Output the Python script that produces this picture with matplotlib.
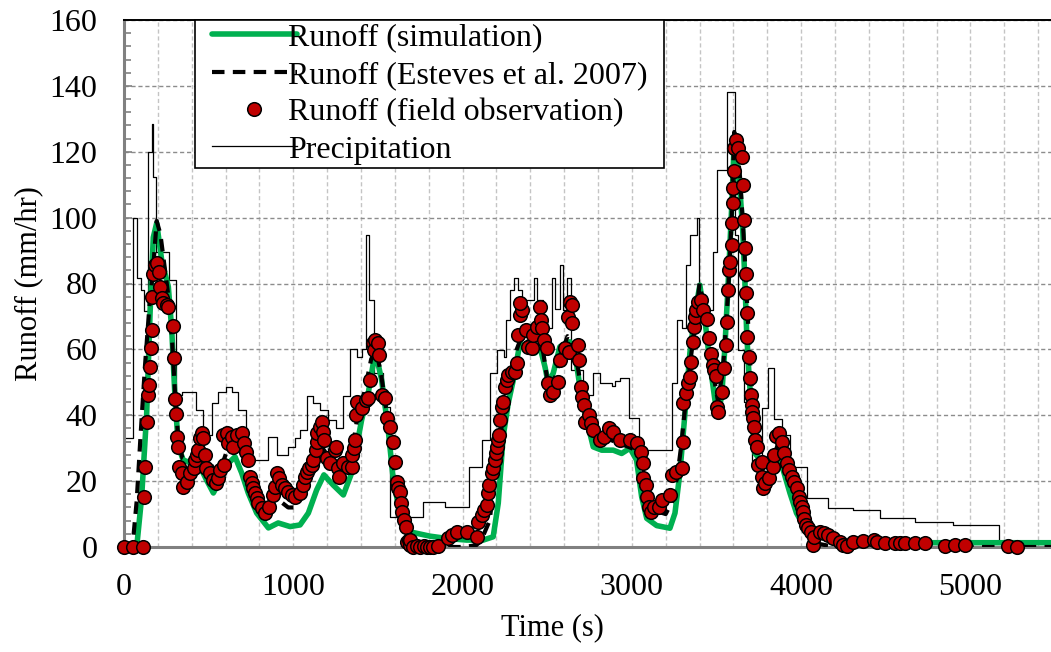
import matplotlib
matplotlib.use("Agg")
import matplotlib.pyplot as plt
from matplotlib.ticker import MultipleLocator
from matplotlib.lines import Line2D
from matplotlib.legend_handler import HandlerLine2D

plt.rcParams['font.family'] = ['Liberation Serif', 'DejaVu Serif']

# ---------------- data ----------------
sim_t = [0, 75, 104, 134, 154, 173, 193, 223, 262, 282, 301, 321, 350, 400, 449, 488, 528, 567, 616, 656,
         695, 734, 784, 853, 911, 981, 1040, 1089, 1138, 1181, 1236, 1296, 1345, 1404, 1443, 1473, 1493,
         1522, 1561, 1591, 1630, 1689, 1807, 1906, 2024, 2122, 2181, 2211, 2240, 2270, 2300, 2339, 2388,
         2428, 2457, 2487, 2506, 2536, 2575, 2634, 2664, 2693, 2733, 2772, 2822, 2890, 2940, 2989, 3028,
         3058, 3088, 3147, 3225, 3255, 3284, 3314, 3343, 3373, 3402, 3432, 3461, 3491, 3511, 3531, 3550,
         3570, 3590, 3603, 3619, 3639, 3655, 3668, 3678, 3688, 3708, 3727, 3767, 3806, 3845, 3865, 3894,
         3934, 3973, 4023, 4072, 4151, 4269, 4500, 5500]
sim_y = [0, 0, 15, 40.6, 71, 94, 98.3, 87, 79, 66, 45.6, 30.4, 26.4, 25.4, 24.4, 20.3, 16.4, 20.3, 25.4, 27.4,
         22.5, 16.4, 10.3, 5.8, 7.3, 6.2, 6.7, 10.3, 17.3, 21.9, 18.8, 15.8, 22.5, 38.6, 46.7, 55.9, 57.5,
         50.7, 35.5, 20.3, 10.3, 4.6, 3.3, 2.6, 2.1, 2.1, 3.1, 13.3, 33.5, 43.7, 50.7, 61.9, 59.3,
         58.9, 60.8, 54.7, 49.8, 52.8, 60.8, 62.3, 58.9, 48.7, 38.6, 30.4, 29.4, 29.4, 28.4, 30, 26.4,
         15.3, 8.7, 6.5, 5.7, 10.3, 22.5, 40.6, 58.9, 71, 79.5, 68.9, 55.9, 44.6, 41.6, 45.6, 60.8,
         81, 103.3, 120.5, 118.5, 108.4, 96.2, 81, 65.9, 55.9, 40.6, 28.5, 25.9, 25.9, 27.4, 26.4, 23.4,
         16.4, 10.3, 5.7, 3.6, 2.6, 1.6, 1.3, 1.3]

est_t = [0, 50, 75, 98, 124, 150, 173, 193, 215, 240, 265, 285, 300, 320, 345, 380, 420, 460, 500, 540,
         580, 620, 660, 700, 740, 790, 840, 880, 920, 970, 1010, 1060, 1110, 1160, 1200, 1250, 1300, 1340,
         1380, 1420, 1460, 1490, 1520, 1560, 1600, 1640, 1680, 1720, 1800, 1900, 2000, 2080, 2110, 2160,
         2200, 2240, 2280, 2320, 2350, 2380, 2420, 2460, 2480, 2500, 2520, 2550, 2580, 2620, 2650, 2680,
         2720, 2760, 2800, 2850, 2900, 2950, 3000, 3040, 3070, 3100, 3140, 3200, 3240, 3270, 3290, 3320,
         3350, 3380, 3400, 3430, 3460, 3490, 3510, 3540, 3570, 3590, 3605, 3620, 3640, 3660, 3680, 3700,
         3720, 3750, 3780, 3810, 3840, 3870, 3900, 3940, 3980, 4020, 4060, 4100, 4200, 5500]
est_y = [0, 0, 14, 34, 55, 73, 85, 99, 95, 85, 75, 62, 48, 33, 27, 26, 28, 31, 27, 22,
         25, 31, 31, 30, 22, 14, 11, 13, 14, 12, 12, 17, 24, 31, 28, 26, 23, 26,
         40, 47, 57, 60, 52, 38, 22, 10, 3, 0.5, 0, 0, 0, 0.5, 2, 8,
         25, 40, 52, 60, 64, 62, 61, 65, 58, 51, 48, 52, 58, 64, 62, 55,
         42, 35, 33, 33, 32, 31, 30, 28, 20, 13, 11, 10, 14, 22, 30, 45,
         58, 70, 80, 72, 62, 50, 44, 55, 78, 100, 126, 122, 112, 95, 75, 55,
         40, 30, 22, 22, 28, 32, 30, 22, 14, 7, 3, 1, 0, 0]

obs_t = [0, 55, 110, 120, 126, 134, 144, 148, 154, 158, 163, 165, 170, 183, 197, 209, 213, 223, 232, 252,
         262, 289, 293, 303, 307, 315, 321, 327, 341, 350, 374, 390, 415, 417, 429, 439, 449, 459, 468, 478,
         484, 508, 528, 543, 557, 567, 591, 587, 606, 616, 636, 646, 665, 695, 709, 721, 734, 744, 754, 764,
         774, 784, 793, 813, 833, 858, 882, 892, 902, 917, 931, 951, 971, 991, 1010, 1040, 1059, 1069, 1079,
         1095, 1109, 1118, 1134, 1138, 1142, 1158, 1168, 1177, 1181, 1197, 1217, 1246, 1252, 1266, 1272, 1296,
         1325, 1345, 1345, 1359, 1364, 1370, 1374, 1404, 1429, 1443, 1453, 1469, 1479, 1483, 1502, 1508, 1522,
         1542, 1552, 1571, 1591, 1601, 1611, 1620, 1630, 1636, 1644, 1654, 1666, 1670, 1685, 1689, 1690, 1709,
         1730, 1748, 1770, 1788, 1810, 1827, 1856, 1916, 1935, 1965, 2028, 2087, 2093, 2113, 2127, 2142, 2152,
         2158, 2172, 2181, 2191, 2195, 2201, 2211, 2215, 2221, 2231, 2240, 2250, 2260, 2270, 2290, 2310, 2319,
         2329, 2339, 2349, 2339, 2375, 2388, 2408, 2414, 2438, 2457, 2463, 2471, 2481, 2497, 2503, 2516, 2536,
         2565, 2575, 2605, 2630, 2624, 2634, 2644, 2644, 2684, 2690, 2697, 2703, 2717, 2723, 2749, 2757, 2772,
         2812, 2835, 2867, 2890, 2930, 2989, 3028, 3052, 3064, 3068, 3082, 3088, 3103, 3111, 3133, 3162, 3176,
         3225, 3235, 3261, 3294, 3300, 3304, 3320, 3333, 3343, 3347, 3363, 3367, 3373, 3379, 3392, 3408, 3422,
         3446, 3456, 3466, 3477, 3487, 3495, 3501, 3507, 3531, 3544, 3556, 3564, 3570, 3576, 3580, 3590, 3594,
         3596, 3600, 3606, 3606, 3615, 3629, 3652, 3658, 3662, 3668, 3672, 3674, 3678, 3682, 3692, 3698, 3704,
         3708, 3711, 3717, 3721, 3727, 3737, 3747, 3767, 3767, 3776, 3786, 3812, 3832, 3841, 3851, 3871, 3889,
         3899, 3914, 3930, 3948, 3959, 3973, 3987, 3993, 4003, 4013, 4018, 4028, 4042, 4056, 4072, 4076, 4111,
         4135, 4160, 4190, 4229, 4249, 4269, 4308, 4367, 4430, 4446, 4495, 4554, 4584, 4613, 4672, 4731, 4850,
         4909, 4968, 5223, 5273]
obs_y = [0, 0, 0, 15.3, 24.4, 38, 46.1, 49.2, 54.7, 60.3, 65.9, 76, 83, 85.6, 86.1, 83.6, 79, 75.5, 74, 73.4,
         73, 67.1, 57.5, 44.8, 40.3, 33.5, 30.4, 24.4, 22.4, 18.3, 19.8, 22.5, 23.9, 26.4, 27.9, 29.4, 33, 34.5, 33, 27.9,
         23.9, 22.4, 20.3, 19.3, 20.8, 23.4, 24.9, 34, 34.5, 31.5, 33.5, 30.4, 34, 34.7, 31.5, 28.9, 26.4, 21.3, 19.3, 17.8,
         16.3, 14.8, 13.3, 11.7, 10.2, 12.2, 15.8, 18.3, 22.4, 20.8, 18.8, 17.8, 16.8, 15.8, 15.3, 16.3, 18.8, 21.3, 22.9,
         23.9, 24.9, 26.4, 29.4, 32, 34.5, 36.5, 38, 35, 32.5, 26.9, 25.4, 29.4, 30.4, 23.9, 21.3, 25.4,
         24.4, 24.4, 27.9, 30, 32.5, 40, 44.1, 42.1, 44.6, 45.1, 50.7, 61.8, 59.8, 62.8, 61.8, 58.3, 46.1,
         45.1, 39.1, 36.5, 32, 25.9, 19.8, 17.8, 16.8, 13.3, 10.7, 8.2, 6.2, 1.6, 2.1, 0.5, 2.1, 0,
         0.2, 0, 0.3, 0, 0.1, 0, 0.3, 2.6, 3.6, 4.7, 4.7, 3.1, 7.7, 9.7, 11.2, 12.7, 16.3,
         18.8, 22.4, 23.9, 26.4, 28.4, 30.4, 32.5, 34, 38.6, 42.6, 44.1, 48.7, 50.7, 52.2, 53.2, 53.2, 55.8,
         64.4, 70.4, 71.9, 74.2, 65.9, 60.8, 60.3, 64.4, 66.9, 73, 68.9, 66.4, 62.8, 60.3, 49.7, 46.1, 47.1,
         50.2, 56.8, 60.3, 59.3, 69.9, 74.5, 73.5, 67.9, 61.3, 56.8, 48.7, 45.6, 43.1, 38, 40.1, 37.6, 35.5,
         32.5, 33.5, 36, 35, 32.5, 32.5, 31.5, 28.9, 25.6, 20.8, 18.8, 15.3, 12.2, 10.7, 12, 12, 14.3,
         15.8, 21.9, 22.9, 23.9, 32, 43.6, 46.7, 49.7, 51.7, 56.3, 62.3, 66.9, 69.9, 71.9, 74.5, 75, 71.9,
         69.1, 63.4, 58.6, 55.3, 53.7, 51.9, 42.6, 41.1, 47.1, 54.2, 61.3, 68.4, 78, 84.1, 86.6, 91.7, 98.3,
         104.3, 108.9, 114.2, 121, 123.6, 121, 118.5, 109.9, 99.3, 90.7, 82.9, 77, 70.9, 63.8, 57.6, 51.2, 46.1,
         43.1, 41.1, 39.1, 36.5, 32.5, 30.4, 24.9, 25.9, 21.3, 17.8, 19.3, 20.8, 24.4, 27.9, 33.7, 34.5, 32,
         28.4, 25.4, 23.4, 21.3, 19.8, 17.8, 15.3, 13.8, 12.2, 10.7, 8.4, 6.7, 5.7, 4.7, 0.6, 3.1, 4.7,
         4.2, 3.6, 2.6, 1.6, 0.6, 0.4, 1.6, 1.9, 2.2, 1.6, 1.1, 1.3, 1.1, 1.1, 1.1, 1.1, 0.4,
         0.6, 0.6, 0.4, 0]

pr_t = [0, 55, 75, 98, 118, 144, 163, 173, 189, 268, 310, 341, 380, 423, 465, 518, 557, 602, 636, 675,
        719, 853, 902, 971, 1010, 1040, 1079, 1118, 1158, 1207, 1252, 1296, 1335, 1374, 1404, 1429, 1449,
        1477, 1532, 1571, 1768, 1896, 2040, 2113, 2162, 2201, 2245, 2256, 2280, 2305, 2325, 2349, 2424,
        2438, 2477, 2526, 2546, 2575, 2591, 2619, 2638, 2713, 2772, 2812, 2880, 2900, 2930, 2985, 3040,
        3235, 3269, 3294, 3320, 3343, 3383, 3398, 3477, 3506, 3560, 3609, 3629, 3665, 3708, 3767, 3806,
        3840, 3885, 3934, 4033, 4160, 4308, 4466, 4672, 4899, 5170, 5500]
pr_y = [33, 99.8, 81.6, 78, 71.7, 120, 128.4, 112.4, 89.6, 81, 46.1, 47.1, 47, 41.6, 34, 43.6, 47.1, 48.5, 47.1, 41.6,
        26.4, 33.4, 28, 30.4, 33, 35.5, 45.8, 43.7, 41.6, 38.6, 36, 45.8, 60, 57.8, 60, 94.7, 75,
        52.8, 42.5, 9.2, 13.8, 12.2, 24.4, 32.5, 52.7, 59.8, 57.8, 68.9, 78, 81.6, 78, 75, 81.6,
        75, 66.4, 81.6, 72.4, 85.6, 71.9, 81.6, 53.7, 46.1, 52.7, 49.7, 49, 50.5, 51.3, 39.1, 29.4,
        49.7, 68.9, 66.4, 85.6, 94.7, 99.8, 72, 89.7, 114.5, 138.2, 94.7, 59.8, 44, 24.9, 42.1, 54.2,
        38.8, 34, 24.4, 14.8, 11.7, 11.2, 8.7, 7.7, 6.7, 1.1, 1.1]

x_ticks = [0, 1000, 2000, 3000, 4000, 5000]
y_ticks = [0, 20, 40, 60, 80, 100, 120, 140, 160]

# ---------------- figure ----------------
W, H = 1051, 652
fig = plt.figure(figsize=(W / 100, H / 100), dpi=100)
ax = fig.add_axes([124 / W, 105 / H, 931 / W, 527 / H])

ax.step(pr_t, pr_y, where='post', color='black', lw=0.9, zorder=2, label='Precipitation')
ax.plot(sim_t, sim_y, color='#00b050', lw=4.0, zorder=3, label='Runoff (simulation)',
        solid_joinstyle='round', solid_capstyle='round')
ax.plot(est_t, est_y, color='black', lw=3.0, ls=(0, (3, 2)), zorder=4,
        label='Runoff (Esteves et al. 2007)')
ax.plot(obs_t, obs_y, ls='none', marker='o', ms=9.8, mfc='#c00000', mec='black', mew=1.1,
        zorder=5, clip_on=False, label='Runoff (field observation)')

ax.set_xlim(0, 5500)
ax.set_ylim(0, 160)
ax.set_xticks(x_ticks)
ax.set_yticks(y_ticks)
ax.xaxis.set_minor_locator(MultipleLocator(200))
ax.yaxis.set_minor_locator(MultipleLocator(4))

ax.grid(axis='x', which='both', color='#c4c4c4', lw=1.0, ls=(0, (3, 2)), zorder=0)
ax.grid(axis='y', which='major', color='#8c8c8c', lw=1.0, ls=(0, (3, 2)), zorder=0)
ax.set_axisbelow(True)

ax.tick_params(axis='x', which='both', length=0, labelsize=23, pad=19)
ax.tick_params(axis='y', which='both', direction='in', color='#808080', width=1.2,
               labelsize=23, pad=19)
ax.tick_params(axis='y', which='major', length=6)
ax.tick_params(axis='y', which='minor', length=5)

for side in ('left', 'bottom'):
    ax.spines[side].set_color('#808080')
    ax.spines[side].set_linewidth(2.2)
ax.spines['top'].set_color('black')
ax.spines['top'].set_linewidth(1.4)
ax.spines['right'].set_visible(False)

ax.set_xlabel('Time (s)', fontsize=22)
ax.set_ylabel('Runoff (mm/hr)', fontsize=22)
ax.xaxis.set_label_coords(0.46, -0.125)
ax.yaxis.set_label_coords(-0.087, 0.5)

handles, labels = ax.get_legend_handles_labels()
order = [1, 2, 3, 0]
leg = ax.legend([handles[i] for i in order], [labels[i] for i in order],
                loc='upper left', bbox_to_anchor=((195 - 124) / 931, 0, (664 - 195) / 931, 1.0),
                mode='expand', borderaxespad=0, fontsize=23, frameon=True, fancybox=False,
                edgecolor='black', framealpha=1, handlelength=3.09, handletextpad=-0.28,
                labelspacing=0.25, borderpad=0.1, numpoints=1,
                handler_map={Line2D: HandlerLine2D(xpad=0.43)})
leg.get_frame().set_linewidth(1.2)
leg.set_zorder(10)

fig.savefig('out.png', dpi=100)
